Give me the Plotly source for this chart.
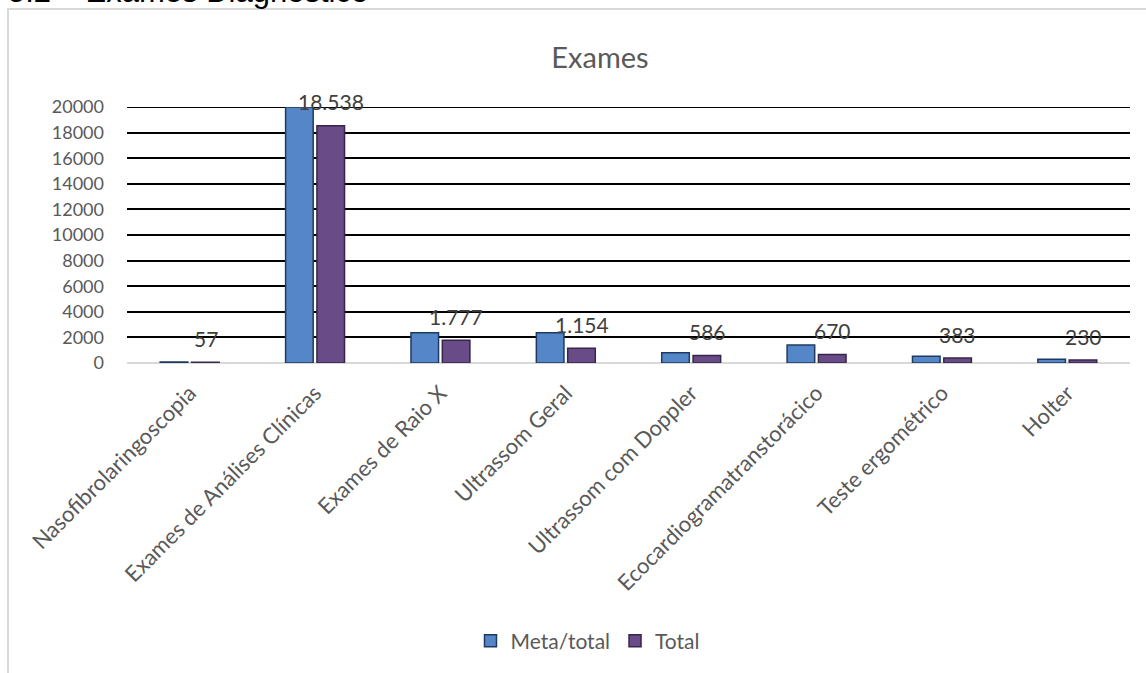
import plotly.graph_objects as go

categories = ["Nasofibrolaringoscopia", "Exames de Análises Clínicas", "Exames de Raio X",
              "Ultrassom Geral", "Ultrassom com Doppler", "Ecocardiogramatranstorácico",
              "Teste ergométrico", "Holter"]
meta_total = [80, 20000, 2360, 2360, 800, 1400, 530, 300]
total = [57, 18538, 1777, 1154, 586, 670, 383, 230]
total_labels = ["57", "18.538", "1.777", "1.154", "586", "670", "383", "230"]
y_ticks = list(range(0, 20001, 2000))

W, H = 1146, 673
L, R, T, B = 127, 16, 107, 310
pw, ph = W - L - R, H - T - B

def px_x(p):
    return (p - L) / pw

def px_y(p):
    return (H - B - p) / ph

FONT = "Lato, Carlito, Calibri, sans-serif"
GREY = "#595959"

fig = go.Figure()
fig.add_trace(go.Bar(name="Meta/total", x=categories, y=meta_total,
                     marker=dict(color="#5587C8", line=dict(color="#1F3A60", width=1.5))))
fig.add_trace(go.Bar(name="Total", x=categories, y=total,
                     marker=dict(color="#694B88", line=dict(color="#35264A", width=1.5))))

annotations = []
for c, v, t in zip(categories, total, total_labels):
    annotations.append(dict(x=c, y=v, xref="x", yref="y", text=t, showarrow=False,
                            xshift=16, yshift=24, yanchor="middle",
                            font=dict(family=FONT, size=21, color="#404040")))
annotations.append(dict(x=px_x(370), y=px_y(11.5), xref="paper", yref="paper",
                        text="5.2 \u2013 Exames Diagnóstico", showarrow=False,
                        xanchor="right", yanchor="bottom",
                        font=dict(family="Liberation Sans, Arial, sans-serif", size=31, color="#000000")))

fig.update_layout(
    width=W, height=H,
    margin=dict(l=L, r=R, t=T, b=B),
    paper_bgcolor="white", plot_bgcolor="white",
    barmode="group", bargap=0.5, bargroupgap=0.12,
    title=dict(text="Exames", x=600 / W, xref="container", xanchor="center",
               y=1 - 58 / H, yref="container", yanchor="middle",
               font=dict(family=FONT, size=29, color=GREY)),
    xaxis=dict(showgrid=False, tickangle=-45, ticks="", showline=False,
               ticklabelstandoff=12,
               tickfont=dict(family=FONT, size=22, color=GREY)),
    yaxis=dict(range=[0, 20000], tickvals=y_ticks, tickformat="d",
               showgrid=True, gridcolor="#000000", gridwidth=2,
               zeroline=True, zerolinecolor="#D9D9D9", zerolinewidth=2,
               ticks="", ticklabelstandoff=22,
               tickfont=dict(family=FONT, size=18, color=GREY)),
    legend=dict(orientation="h", x=px_x(588), xanchor="center", y=px_y(641), yanchor="middle",
                font=dict(family=FONT, size=21, color=GREY), itemwidth=30),
    showlegend=True,
    annotations=annotations,
    shapes=[dict(type="rect", xref="paper", yref="paper",
                 x0=px_x(8), x1=px_x(1170), y0=px_y(700), y1=px_y(9),
                 line=dict(color="#D9D9D9", width=2), fillcolor="rgba(0,0,0,0)", layer="below"),
            dict(type="line", xref="paper", yref="y", x0=0, x1=1, y0=y_ticks[-1], y1=y_ticks[-1],
                 line=dict(color="#000000", width=2), layer="below")],
)

fig.write_html("out.html")
